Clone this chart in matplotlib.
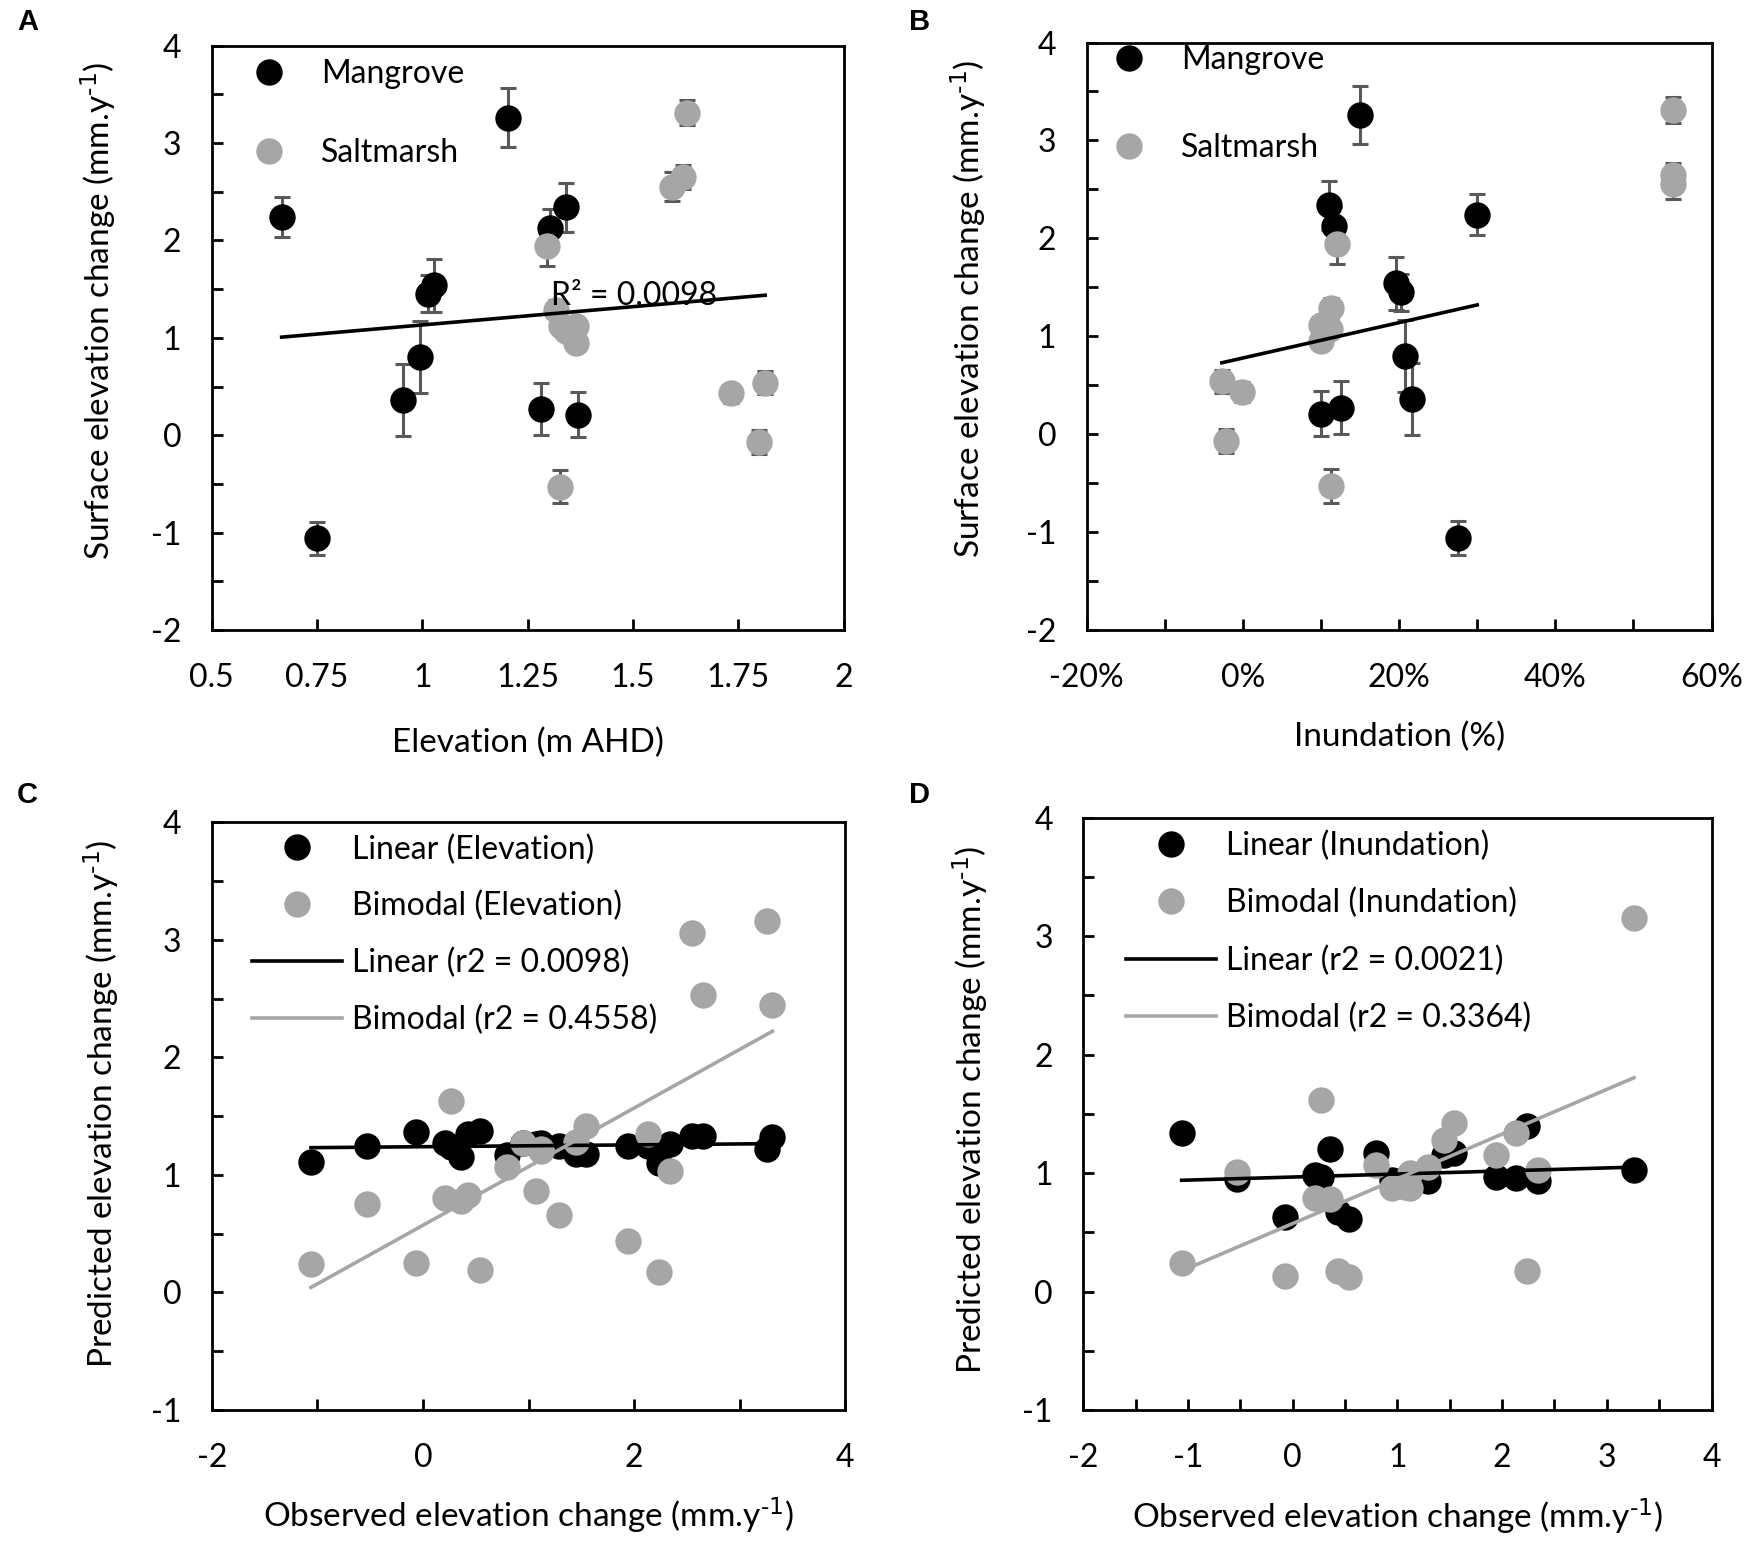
import numpy as np
import matplotlib
matplotlib.use("Agg")
import matplotlib.pyplot as plt
from matplotlib.ticker import MultipleLocator, FuncFormatter

plt.rcParams['font.family'] = ['Lato', 'DejaVu Sans']
plt.rcParams['mathtext.default'] = 'regular'
plt.rcParams['axes.unicode_minus'] = False

# ---------------- data ----------------
# Mangrove sites
mg_elev = [0.666, 0.750, 0.954, 0.994, 1.014, 1.027, 1.204, 1.304, 1.340, 1.281, 1.369]
mg_inund = [30.0, 27.6, 21.7, 20.7, 20.2, 19.6, 15.0, 11.7, 11.0, 12.6, 10.0]
mg_sec = [2.24, -1.06, 0.36, 0.80, 1.45, 1.54, 3.26, 2.13, 2.34, 0.27, 0.21]
mg_err = [0.21, 0.17, 0.37, 0.37, 0.19, 0.27, 0.30, 0.19, 0.25, 0.27, 0.23]

# Saltmarsh sites
sm_elev = [1.629, 1.620, 1.592, 1.296, 1.317, 1.330, 1.340, 1.365, 1.365, 1.327, 1.732, 1.814, 1.800]
sm_inund = [55.1, 55.1, 55.1, 12.1, 11.3, 10.0, 11.1, 10.3, 10.0, 11.3, -0.1, -2.7, -2.2]
sm_sec = [3.31, 2.65, 2.55, 1.94, 1.29, 1.12, 1.07, 1.12, 0.95, -0.53, 0.43, 0.54, -0.07]
sm_err = [0.13, 0.12, 0.15, 0.20, 0.10, 0.08, 0.08, 0.08, 0.08, 0.17, 0.10, 0.12, 0.12]

# trendlines drawn in panels A and B (slope, intercept)
trendA = (0.375, 0.757)
trendB = (0.01807, 0.778)
r2_text_A = "R\u00b2 = 0.0098"

# Panel C: observed vs predicted (elevation models)
C_obs = mg_sec + sm_sec
C_lin = [1.10, 1.11, 1.15, 1.17, 1.18, 1.18, 1.22, 1.25, 1.26, 1.24, 1.27,
         1.32, 1.33, 1.33, 1.25, 1.25, 1.26, 1.26, 1.27, 1.27, 1.25, 1.35, 1.37, 1.365]
C_bim = [0.17, 0.24, 0.78, 1.07, 1.28, 1.42, 3.16, 1.35, 1.03, 1.63, 0.80,
         2.45, 2.53, 3.06, 0.44, 0.66, 1.20, 0.86, 1.22, 1.27, 0.75, 0.83, 0.19, 0.25]
C_labels = ["Linear (Elevation)", "Bimodal (Elevation)",
            "Linear (r2 = 0.0098)", "Bimodal (r2 = 0.4558)"]

# Panel D: observed vs predicted (inundation models)
D_obs = [-1.06, -0.53, -0.07, 0.21, 0.27, 0.36, 0.43, 0.54, 0.80, 0.95, 1.07,
         1.12, 1.12, 1.29, 1.45, 1.54, 1.94, 2.13, 2.24, 2.34, 3.26]
D_lin = [1.34, 0.95, 0.63, 0.98, 0.97, 1.20, 0.67, 0.61, 1.17, 0.94, 0.95,
         0.97, 0.93, 0.93, 1.15, 1.17, 0.97, 0.96, 1.40, 0.93, 1.03]
D_bim = [0.24, 1.01, 0.13, 0.79, 1.62, 0.78, 0.17, 0.12, 1.07, 0.87, 0.88,
         1.00, 0.87, 1.05, 1.28, 1.42, 1.15, 1.34, 0.17, 1.03, 3.15]
D_labels = ["Linear (Inundation)", "Bimodal (Inundation)",
            "Linear (r2 = 0.0021)", "Bimodal (r2 = 0.3364)"]

# ---------------- style ----------------
BLACK = '#000000'
GREY = '#A6A6A6'
ERR = '#595959'
FS = 23      # ticks / legend
FSL = 24     # axis titles
MS = 19
LW = 2.6
unit = r"(mm.y$^{\text{-1}}$)"

fig = plt.figure(figsize=(17.5, 15.46), dpi=100)
axA = fig.add_axes([0.121, 0.5925, 0.361, 0.378])
axB = fig.add_axes([0.621, 0.5925, 0.357, 0.380])
axC = fig.add_axes([0.121, 0.088, 0.362, 0.380])
axD = fig.add_axes([0.619, 0.088, 0.359, 0.383])

gfmt = FuncFormatter(lambda v, p: f"{v:g}")
pfmt = FuncFormatter(lambda v, p: f"{v:.0f}%")


def style(ax):
    for s in ax.spines.values():
        s.set_linewidth(2.0)
    ax.tick_params(which='both', direction='in', width=2.0, length=8,
                   labelsize=FS, top=False, right=False)
    ax.tick_params(axis='x', which='both', pad=24)
    ax.tick_params(axis='y', which='both', pad=22)
    ax.yaxis.set_major_formatter(gfmt)


def place_labels(ax, xl, yl, xpos, ypos):
    ax.set_xlabel(xl, fontsize=FSL)
    ax.set_ylabel(yl, fontsize=FSL)
    ax.xaxis.set_label_coords(*xpos)
    ax.yaxis.set_label_coords(*ypos)
    ax.xaxis.label.set_va('center')
    ax.yaxis.label.set_va('center')


def site_panel(ax, xm, xs):
    ax.errorbar(xm, mg_sec, yerr=mg_err, fmt='none', ecolor=ERR,
                elinewidth=2.2, capsize=6, capthick=2.2, zorder=2)
    ax.errorbar(xs, sm_sec, yerr=sm_err, fmt='none', ecolor=ERR,
                elinewidth=2.2, capsize=6, capthick=2.2, zorder=2)
    h1, = ax.plot(xm, mg_sec, 'o', color=BLACK, ms=MS, mec='none', zorder=3, label='Mangrove')
    h2, = ax.plot(xs, sm_sec, 'o', color=GREY, ms=MS, mec='none', zorder=3, label='Saltmarsh')
    return h1, h2


# ---- A ----
h1, h2 = site_panel(axA, mg_elev, sm_elev)
allx = np.array(mg_elev + sm_elev)
xx = np.array([allx.min(), allx.max()])
axA.plot(xx, trendA[0] * xx + trendA[1], color=BLACK, lw=LW, zorder=4)
axA.text(1.306, 1.43, r2_text_A, fontsize=FS, va='center', ha='left', zorder=5)
axA.set_xlim(0.5, 2)
axA.set_ylim(-2, 4)
style(axA)
axA.xaxis.set_major_locator(MultipleLocator(0.25))
axA.yaxis.set_major_locator(MultipleLocator(1))
axA.yaxis.set_minor_locator(MultipleLocator(0.5))
axA.xaxis.set_major_formatter(gfmt)
place_labels(axA, "Elevation (m AHD)", "Surface elevation change " + unit,
             (0.5, -0.193), (-0.18, 0.547))
axA.legend([h1, h2], ['Mangrove', 'Saltmarsh'], loc='upper left',
           bbox_to_anchor=(0.040, 0.977), frameon=False, fontsize=FS,
           borderpad=0, borderaxespad=0, handlelength=2.0, handletextpad=0.63,
           labelspacing=1.53)

# ---- B ----
h1, h2 = site_panel(axB, mg_inund, sm_inund)
allx = np.array(mg_inund + sm_inund)
xx = np.array([allx.min(), max(mg_inund)])
axB.plot(xx, trendB[0] * xx + trendB[1], color=BLACK, lw=LW, zorder=4)
axB.set_xlim(-20, 60)
axB.set_ylim(-2, 4)
style(axB)
axB.xaxis.set_major_locator(MultipleLocator(20))
axB.xaxis.set_minor_locator(MultipleLocator(10))
axB.yaxis.set_major_locator(MultipleLocator(1))
axB.yaxis.set_minor_locator(MultipleLocator(0.5))
axB.xaxis.set_major_formatter(pfmt)
place_labels(axB, "Inundation (%)", "Surface elevation change " + unit,
             (0.5, -0.182), (-0.19, 0.547))
axB.legend([h1, h2], ['Mangrove', 'Saltmarsh'], loc='upper left',
           bbox_to_anchor=(0.016, 0.995), frameon=False, fontsize=FS,
           borderpad=0, borderaxespad=0, handlelength=2.0, handletextpad=0.63,
           labelspacing=1.8)


# ---- C & D ----
def model_panel(ax, obs, lin, bim):
    obs = np.array(obs)
    h1, = ax.plot(obs, lin, 'o', color=BLACK, ms=MS, mec='none', zorder=2)
    h2, = ax.plot(obs, bim, 'o', color=GREY, ms=MS, mec='none', zorder=3)
    xx = np.array([obs.min(), obs.max()])
    p1 = np.polyfit(obs, lin, 1)
    p2 = np.polyfit(obs, bim, 1)
    h3, = ax.plot(xx, np.polyval(p1, xx), color=BLACK, lw=LW, zorder=4)
    h4, = ax.plot(xx, np.polyval(p2, xx), color=GREY, lw=LW, zorder=4)
    ax.set_ylim(-1, 4)
    ax.set_xlim(-2, 4)
    style(ax)
    ax.yaxis.set_major_locator(MultipleLocator(1))
    ax.yaxis.set_minor_locator(MultipleLocator(0.5))
    return [h1, h2, h3, h4]


hs = model_panel(axC, C_obs, C_lin, C_bim)
axC.xaxis.set_major_locator(MultipleLocator(2))
axC.xaxis.set_minor_locator(MultipleLocator(1))
axC.xaxis.set_major_formatter(gfmt)
place_labels(axC, "Observed elevation change " + unit, "Predicted elevation change " + unit,
             (0.5, -0.18), (-0.175, 0.521))
axC.legend(hs, C_labels, loc='upper left', bbox_to_anchor=(0.063, 0.980),
           frameon=False, fontsize=FS, borderpad=0, borderaxespad=0,
           handlelength=2.82, handletextpad=0.31, labelspacing=0.83)

hs = model_panel(axD, D_obs, D_lin, D_bim)
axD.xaxis.set_major_locator(MultipleLocator(1))
axD.xaxis.set_minor_locator(MultipleLocator(0.5))
axD.xaxis.set_major_formatter(gfmt)
place_labels(axD, "Observed elevation change " + unit, "Predicted elevation change " + unit,
             (0.5, -0.18), (-0.18, 0.507))
axD.legend(hs, D_labels, loc='upper left', bbox_to_anchor=(0.068, 0.979),
           frameon=False, fontsize=FS, borderpad=0, borderaxespad=0,
           handlelength=2.82, handletextpad=0.31, labelspacing=0.85)

# panel letters
for lab, (x, y) in zip("ABCD", [(17, 22), (909, 22), (17, 795), (909, 795)]):
    fig.text(x / 1750, 1 - y / 1546, lab, fontsize=21, fontweight='bold',
             family=['Liberation Sans', 'DejaVu Sans'], ha='left', va='center')

fig.savefig("out.png", dpi=100)
